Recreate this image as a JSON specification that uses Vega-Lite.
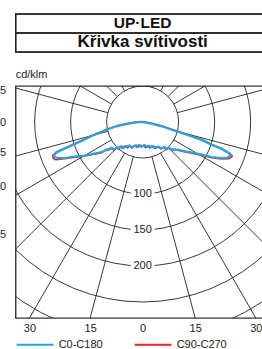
{
  "$schema": "https://vega.github.io/schema/vega-lite/v6.json",
  "padding": {"left": -14.35, "top": 12, "right": 0, "bottom": 0},
  "spacing": 14,
  "config": {
    "view": {"stroke": "#333", "strokeWidth": 1.4},
    "font": "Liberation Sans"
  },
  "datasets": {
    "titles": [{"t": "UP·LED", "row": "1"}, {"t": "Křivka svítivosti", "row": "2"}],
    "circles": [{"r": 50}, {"r": 100}, {"r": 150}, {"r": 200}, {"r": 250}, {"r": 300}],
    "labels": [{"r": 100}, {"r": 150}, {"r": 200}],
    "radials": [
      {"x": 12.94, "y": 48.3, "x2": 103.53, "y2": 386.37},
      {"x": 25, "y": 43.3, "x2": 200, "y2": 346.41},
      {"x": 35.36, "y": 35.36, "x2": 282.84, "y2": 282.84},
      {"x": 43.3, "y": 25, "x2": 346.41, "y2": 200},
      {"x": 48.3, "y": 12.94, "x2": 386.37, "y2": 103.53},
      {"x": 48.3, "y": -12.94, "x2": 386.37, "y2": -103.53},
      {"x": 43.3, "y": -25, "x2": 346.41, "y2": -200},
      {"x": 35.36, "y": -35.36, "x2": 282.84, "y2": -282.84},
      {"x": 25, "y": -43.3, "x2": 200, "y2": -346.41},
      {"x": 12.94, "y": -48.3, "x2": 103.53, "y2": -386.37},
      {"x": -12.94, "y": 48.3, "x2": -103.53, "y2": 386.37},
      {"x": -25, "y": 43.3, "x2": -200, "y2": 346.41},
      {"x": -35.36, "y": 35.36, "x2": -282.84, "y2": 282.84},
      {"x": -43.3, "y": 25, "x2": -346.41, "y2": 200},
      {"x": -48.3, "y": 12.94, "x2": -386.37, "y2": 103.53},
      {"x": -48.3, "y": -12.94, "x2": -386.37, "y2": -103.53},
      {"x": -43.3, "y": -25, "x2": -346.41, "y2": -200},
      {"x": -35.36, "y": -35.36, "x2": -282.84, "y2": -282.84},
      {"x": -25, "y": -43.3, "x2": -200, "y2": -346.41},
      {"x": -12.94, "y": -48.3, "x2": -103.53, "y2": -386.37}
    ],
    "red": [
      {"i": 0, "x": 0, "y": -0.5}, {"i": 1, "x": -8.3, "y": -0.2}, {"i": 2, "x": -22.2, "y": 2.2}, {"i": 3, "x": -36.1, "y": 5.4},
      {"i": 4, "x": -50, "y": 10.0}, {"i": 5, "x": -56.9, "y": 13.2}, {"i": 6, "x": -70.8, "y": 18.7}, {"i": 7, "x": -84.7, "y": 25.6},
      {"i": 8, "x": -98.6, "y": 31.8}, {"i": 9, "x": -112.5, "y": 38.0}, {"i": 10, "x": -120.5, "y": 42.0}, {"i": 11, "x": -125, "y": 46.5},
      {"i": 12, "x": -124.3, "y": 50.5}, {"i": 13, "x": -120.8, "y": 52.4}, {"i": 14, "x": -108.3, "y": 51.0}, {"i": 15, "x": -94.4, "y": 48.8},
      {"i": 16, "x": -80.6, "y": 47.3}, {"i": 17, "x": -66.7, "y": 44.6}, {"i": 18, "x": -56.9, "y": 42.5}, {"i": 19, "x": -50, "y": 39.0},
      {"i": 20, "x": -46, "y": 38.4}, {"i": 21, "x": -43, "y": 35.6}, {"i": 22, "x": -40, "y": 39.2}, {"i": 23, "x": -37, "y": 36.0},
      {"i": 24, "x": -34, "y": 37.6}, {"i": 25, "x": -31, "y": 33.6}, {"i": 26, "x": -28, "y": 36.8}, {"i": 27, "x": -25, "y": 33.2},
      {"i": 28, "x": -21, "y": 36.0}, {"i": 29, "x": -18, "y": 32.2}, {"i": 30, "x": -15, "y": 36.1}, {"i": 31, "x": -11, "y": 32.8},
      {"i": 32, "x": -8, "y": 35.4}, {"i": 33, "x": -5, "y": 31.6}, {"i": 34, "x": -2, "y": 34.8}, {"i": 35, "x": 1, "y": 32.4},
      {"i": 36, "x": 4, "y": 35.8}, {"i": 37, "x": 7, "y": 32.6}, {"i": 38, "x": 10, "y": 36.0}, {"i": 39, "x": 13, "y": 33.4},
      {"i": 40, "x": 17, "y": 36.6}, {"i": 41, "x": 21, "y": 33.8}, {"i": 42, "x": 25, "y": 37.4}, {"i": 43, "x": 29, "y": 34.8},
      {"i": 44, "x": 33, "y": 38.3}, {"i": 45, "x": 37, "y": 35.8}, {"i": 46, "x": 41, "y": 38.8}, {"i": 47, "x": 46, "y": 38.7},
      {"i": 48, "x": 50, "y": 39.6}, {"i": 49, "x": 54.2, "y": 40.4}, {"i": 50, "x": 68.1, "y": 43.2}, {"i": 51, "x": 81.9, "y": 46.0},
      {"i": 52, "x": 95.8, "y": 49.6}, {"i": 53, "x": 109.7, "y": 51.2}, {"i": 54, "x": 120, "y": 50.8}, {"i": 55, "x": 124.6, "y": 47.6},
      {"i": 56, "x": 121, "y": 43.2}, {"i": 57, "x": 109.7, "y": 36.8}, {"i": 58, "x": 95.8, "y": 30.8}, {"i": 59, "x": 81.9, "y": 24.3},
      {"i": 60, "x": 68.1, "y": 19.4}, {"i": 61, "x": 54.2, "y": 14.6}, {"i": 62, "x": 40.3, "y": 10.0}, {"i": 63, "x": 26.4, "y": 5.3},
      {"i": 64, "x": 12.5, "y": 1.8}, {"i": 65, "x": 0, "y": -0.5}
    ],
    "blue": [
      {"i": 0, "x": 0, "y": 0}, {"i": 1, "x": -8.3, "y": 0.4}, {"i": 2, "x": -22.2, "y": 2.8}, {"i": 3, "x": -36.1, "y": 6.0},
      {"i": 4, "x": -50, "y": 10.7}, {"i": 5, "x": -56.9, "y": 13.9}, {"i": 6, "x": -70.8, "y": 19.4}, {"i": 7, "x": -84.7, "y": 26.4},
      {"i": 8, "x": -98.6, "y": 32.6}, {"i": 9, "x": -112.5, "y": 38.9}, {"i": 10, "x": -119.4, "y": 42.4}, {"i": 11, "x": -122.9, "y": 45.8},
      {"i": 12, "x": -122.2, "y": 48.6}, {"i": 13, "x": -118.1, "y": 50}, {"i": 14, "x": -108.3, "y": 50}, {"i": 15, "x": -94.4, "y": 47.9},
      {"i": 16, "x": -80.6, "y": 46.5}, {"i": 17, "x": -66.7, "y": 43.8}, {"i": 18, "x": -56.9, "y": 41.7}, {"i": 19, "x": -50, "y": 38.2},
      {"i": 20, "x": -46, "y": 37.2}, {"i": 21, "x": -42, "y": 36.3}, {"i": 22, "x": -39, "y": 37.8}, {"i": 23, "x": -36, "y": 35.2},
      {"i": 24, "x": -32, "y": 36.0}, {"i": 25, "x": -29, "y": 34.0}, {"i": 26, "x": -26, "y": 35.7}, {"i": 27, "x": -22, "y": 33.8},
      {"i": 28, "x": -19, "y": 33.0}, {"i": 29, "x": -16, "y": 35.0}, {"i": 30, "x": -12, "y": 33.3}, {"i": 31, "x": -9, "y": 32.2},
      {"i": 32, "x": -6, "y": 34.5}, {"i": 33, "x": -3, "y": 32.8}, {"i": 34, "x": 0, "y": 33.5}, {"i": 35, "x": 3, "y": 32.0},
      {"i": 36, "x": 6, "y": 34.7}, {"i": 37, "x": 9, "y": 33.2}, {"i": 38, "x": 12, "y": 35.1}, {"i": 39, "x": 15, "y": 33.6},
      {"i": 40, "x": 19, "y": 35.8}, {"i": 41, "x": 22, "y": 34.4}, {"i": 42, "x": 26, "y": 36.3}, {"i": 43, "x": 30, "y": 35.2},
      {"i": 44, "x": 34, "y": 37.2}, {"i": 45, "x": 37, "y": 36.2}, {"i": 46, "x": 40, "y": 37.7}, {"i": 47, "x": 45, "y": 38.0},
      {"i": 48, "x": 50, "y": 38.8}, {"i": 49, "x": 54.2, "y": 39.6}, {"i": 50, "x": 68.1, "y": 42.4}, {"i": 51, "x": 81.9, "y": 45.1},
      {"i": 52, "x": 95.8, "y": 48.6}, {"i": 53, "x": 109.7, "y": 50}, {"i": 54, "x": 118.1, "y": 49.3}, {"i": 55, "x": 122.2, "y": 46.5},
      {"i": 56, "x": 119.4, "y": 43.1}, {"i": 57, "x": 109.7, "y": 37.5}, {"i": 58, "x": 95.8, "y": 31.5}, {"i": 59, "x": 81.9, "y": 25},
      {"i": 60, "x": 68.1, "y": 20.1}, {"i": 61, "x": 54.2, "y": 15.3}, {"i": 62, "x": 40.3, "y": 10.7}, {"i": 63, "x": 26.4, "y": 6.0},
      {"i": 64, "x": 12.5, "y": 2.4}, {"i": 65, "x": 0, "y": 0}
    ]
  },
  "vconcat": [
    {
      "width": 254,
      "height": 38,
      "data": {"name": "titles"},
      "encoding": {
        "y": {"field": "row", "type": "nominal", "axis": null, "scale": {"paddingInner": 0, "paddingOuter": 0}}
      },
      "layer": [
        {"mark": {"type": "rect", "fill": "transparent", "stroke": "#222", "strokeWidth": 1.3}},
        {
          "mark": {"type": "text", "font": "Liberation Sans", "fontWeight": "bold", "color": "#111", "baseline": "middle", "align": "center", "dy": -0.5},
          "encoding": {
            "text": {"field": "t", "type": "nominal"},
            "size": {"field": "row", "type": "nominal", "scale": {"domain": ["1", "2"], "range": [15.5, 17]}, "legend": null}
          }
        }
      ]
    },
    {
      "width": 254,
      "height": 232,
      "title": {"text": "cd/klm", "anchor": "start", "frame": "group", "fontSize": 11, "fontWeight": "normal", "font": "Liberation Sans", "color": "#222", "offset": 4},
      "layer": [
        {
          "data": {"name": "circles"},
          "mark": {"type": "point", "shape": "circle", "filled": false, "stroke": "#222", "strokeWidth": 0.9, "opacity": 1, "clip": true},
          "encoding": {
            "x": {"datum": 0, "type": "quantitative", "scale": {"domain": [-176.4, 176.4], "nice": false, "zero": false},
                  "axis": {"title": null, "values": [-157.2, -72.9, 0, 72.9, 157.2], "labelExpr": "abs(datum.value) < 1 ? '0' : abs(datum.value) < 100 ? '15' : '30'", "ticks": false, "domain": false, "grid": false, "labelPadding": 5, "labelFontSize": 11, "labelColor": "#222", "labelFont": "Liberation Sans"}},
            "y": {"datum": 0, "type": "quantitative", "scale": {"domain": [-50, 272.2], "nice": false, "zero": false, "reverse": true},
                  "axis": {"title": null, "values": [-44.4, 0, 43, 88.9, 155.6], "labelExpr": "datum.value < -20 ? '105' : datum.value < 20 ? '90' : datum.value < 60 ? '75' : datum.value < 120 ? '60' : '45'", "ticks": false, "domain": false, "grid": false, "labelPadding": 10, "labelFontSize": 11, "labelColor": "#222", "labelFont": "Liberation Sans"}},
            "size": {"field": "r", "type": "quantitative", "scale": {"type": "pow", "exponent": 2, "domain": [0, 300], "range": [0, 186624]}, "legend": null}
          }
        },
        {
          "data": {"name": "radials"},
          "mark": {"type": "rule", "stroke": "#222", "strokeWidth": 0.9, "clip": true},
          "encoding": {
            "x": {"field": "x", "type": "quantitative", "scale": {"domain": [-176.4, 176.4], "nice": false, "zero": false}},
            "y": {"field": "y", "type": "quantitative", "scale": {"domain": [-50, 272.2], "nice": false, "zero": false, "reverse": true}},
            "x2": {"field": "x2"},
            "y2": {"field": "y2"}
          }
        },
        {
          "mark": {"type": "rule", "stroke": "#8a8a8a", "strokeWidth": 2},
          "encoding": {
            "y": {"datum": 0, "type": "quantitative", "scale": {"domain": [-50, 272.2], "nice": false, "zero": false, "reverse": true}}
          }
        },
        {
          "mark": {"type": "rule", "stroke": "#222", "strokeWidth": 1},
          "encoding": {
            "x": {"datum": 0, "type": "quantitative", "scale": {"domain": [-176.4, 176.4], "nice": false, "zero": false}}
          }
        },
        {
          "data": {"name": "labels"},
          "mark": {"type": "point", "shape": "M-1,-0.54H1V0.54H-1Z", "filled": true, "fill": "white", "strokeWidth": 0, "opacity": 1, "size": 576},
          "encoding": {
            "x": {"datum": 0, "type": "quantitative", "scale": {"domain": [-176.4, 176.4], "nice": false, "zero": false}},
            "y": {"field": "r", "type": "quantitative", "scale": {"domain": [-50, 272.2], "nice": false, "zero": false, "reverse": true}}
          }
        },
        {
          "data": {"name": "labels"},
          "mark": {"type": "text", "fontSize": 11, "font": "Liberation Sans", "color": "#222", "baseline": "middle", "align": "center"},
          "encoding": {
            "x": {"datum": 0, "type": "quantitative", "scale": {"domain": [-176.4, 176.4], "nice": false, "zero": false}},
            "y": {"field": "r", "type": "quantitative", "scale": {"domain": [-50, 272.2], "nice": false, "zero": false, "reverse": true}},
            "text": {"field": "r", "type": "quantitative"}
          }
        },
        {
          "data": {"name": "red"},
          "transform": [{"calculate": "'C90-C270'", "as": "series"}],
          "mark": {"type": "line", "strokeWidth": 1.6, "strokeJoin": "round", "clip": true},
          "encoding": {
            "x": {"field": "x", "type": "quantitative", "scale": {"domain": [-176.4, 176.4], "nice": false, "zero": false}},
            "y": {"field": "y", "type": "quantitative", "scale": {"domain": [-50, 272.2], "nice": false, "zero": false, "reverse": true}},
            "order": {"field": "i", "type": "quantitative"},
            "color": {"field": "series", "type": "nominal", "scale": {"domain": ["C0-C180", "C90-C270"], "range": ["#22a8e0", "#e8262b"]},
                      "legend": {"title": null, "orient": "bottom", "direction": "horizontal", "symbolType": "stroke", "symbolSize": 1369, "symbolStrokeWidth": 2, "labelFontSize": 11, "labelFont": "Liberation Sans", "labelColor": "#222", "labelOffset": 4, "columnPadding": 27, "offset": -10, "padding": 0}}
          }
        },
        {
          "data": {"name": "blue"},
          "transform": [{"calculate": "'C0-C180'", "as": "series"}],
          "mark": {"type": "line", "strokeWidth": 2.2, "strokeJoin": "round", "clip": true},
          "encoding": {
            "x": {"field": "x", "type": "quantitative", "scale": {"domain": [-176.4, 176.4], "nice": false, "zero": false}},
            "y": {"field": "y", "type": "quantitative", "scale": {"domain": [-50, 272.2], "nice": false, "zero": false, "reverse": true}},
            "order": {"field": "i", "type": "quantitative"},
            "color": {"field": "series", "type": "nominal", "scale": {"domain": ["C0-C180", "C90-C270"], "range": ["#22a8e0", "#e8262b"]}}
          }
        }
      ]
    }
  ]
}
